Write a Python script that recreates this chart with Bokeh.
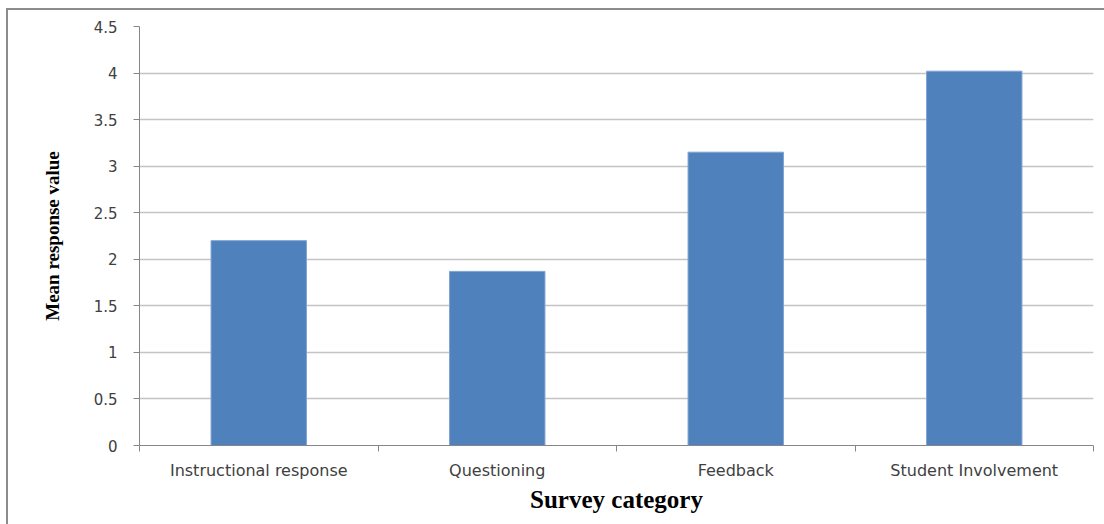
from bokeh.plotting import figure
from bokeh.models import FixedTicker, ColumnDataSource, Range1d, InlineStyleSheet
from bokeh.embed import file_html
from bokeh.resources import INLINE

categories = ["Instructional response", "Questioning", "Feedback", "Student Involvement"]
mean_values = [2.20, 1.87, 3.15, 4.02]
y_ticks = [0, 0.5, 1, 1.5, 2, 2.5, 3, 3.5, 4, 4.5]
y_tick_labels = ["0", "0.5", "1", "1.5", "2", "2.5", "3", "3.5", "4", "4.5"]

x_centers = [i + 0.5 for i in range(len(categories))]
src = ColumnDataSource(dict(x=x_centers, top=mean_values))

border_css = InlineStyleSheet(css="""
:host::after {
  content: "";
  position: absolute;
  left: 6px; top: 8px; right: 0px; bottom: 0px;
  border-left: 2px solid #8C8C8C;
  border-top: 2px solid #8C8C8C;
  pointer-events: none;
}
""")

p = figure(width=1104, height=524, output_backend="svg", toolbar_location=None,
           x_range=Range1d(0, len(categories)), y_range=Range1d(0, 4.5),
           min_border_left=139, min_border_right=11, min_border_top=26, min_border_bottom=79,
           stylesheets=[border_css])

p.vbar(x="x", top="top", width=0.4, bottom=0, source=src,
       fill_color="#4F81BD", line_color="#7FA3D2", line_width=1)

p.outline_line_color = None
p.xgrid.grid_line_color = None
p.ygrid.grid_line_color = "#C4C4C4"
p.ygrid.grid_line_width = 1.3

# x axis
p.xaxis.ticker = FixedTicker(ticks=x_centers, minor_ticks=list(range(len(categories) + 1)))
p.xaxis.major_label_overrides = {c: lab for c, lab in zip(x_centers, categories)}
p.xaxis.major_tick_line_color = None
p.xaxis.minor_tick_line_color = "#868686"
p.xaxis.minor_tick_in = 0
p.xaxis.minor_tick_out = 6
p.xaxis.axis_line_color = "#868686"
p.xaxis.major_label_text_font = "DejaVu Sans"
p.xaxis.major_label_text_font_size = "16px"
p.xaxis.major_label_text_color = "#404040"
p.xaxis.major_label_standoff = 9
p.xaxis.axis_label = "Survey category"
p.xaxis.axis_label_text_font = "Liberation Serif"
p.xaxis.axis_label_text_font_style = "bold"
p.xaxis.axis_label_text_font_size = "25px"
p.xaxis.axis_label_text_color = "#000000"
p.xaxis.axis_label_standoff = 3

# y axis
p.yaxis.ticker = FixedTicker(ticks=y_ticks)
p.yaxis.major_label_overrides = {float(t): lab for t, lab in zip(y_ticks, y_tick_labels)}
p.yaxis.minor_tick_line_color = None
p.yaxis.major_tick_line_color = "#868686"
p.yaxis.major_tick_in = 0
p.yaxis.major_tick_out = 6
p.yaxis.axis_line_color = "#868686"
p.yaxis.major_label_text_font = "DejaVu Sans"
p.yaxis.major_label_text_font_size = "15px"
p.yaxis.major_label_text_color = "#404040"
p.yaxis.major_label_standoff = 16
p.yaxis.axis_label = "Mean response value"
p.yaxis.axis_label_text_font = "Liberation Serif"
p.yaxis.axis_label_text_font_style = "bold"
p.yaxis.axis_label_text_font_size = "19px"
p.yaxis.axis_label_text_color = "#000000"
p.yaxis.axis_label_standoff = 28

open("out.html", "w").write(file_html(p, INLINE))
